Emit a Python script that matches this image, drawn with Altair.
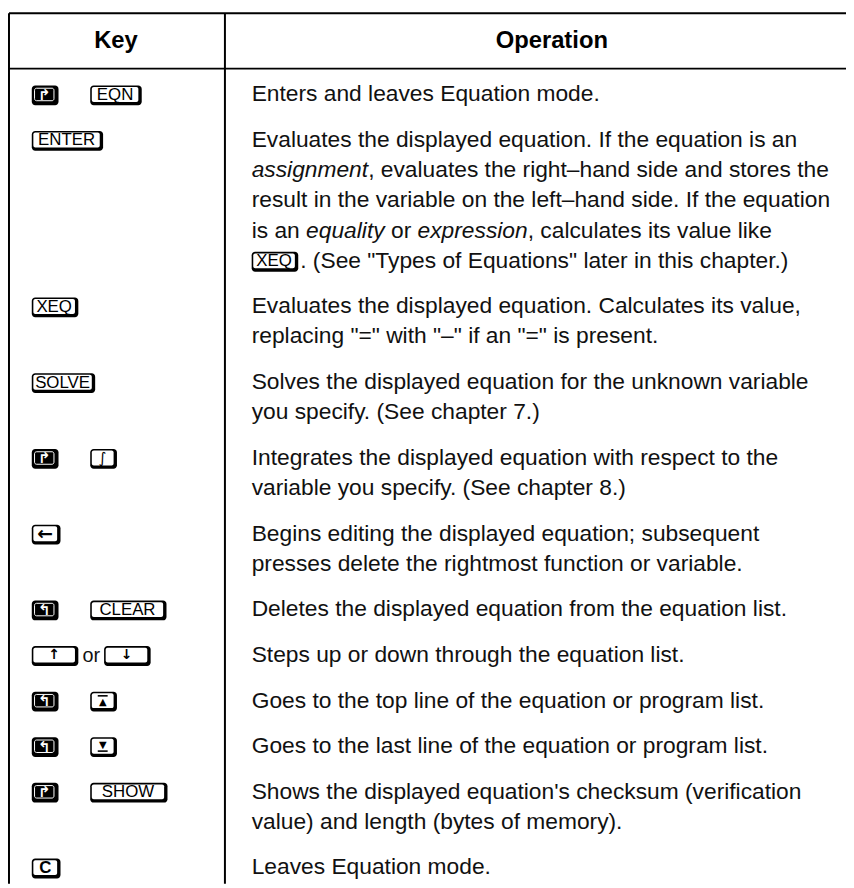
import re
import altair as alt
import pandas as pd

# ---------------- data ----------------
HEADERS = ["Key", "Operation"]

ROW_KEYS = [
    ["RS", "EQN"],
    ["ENTER"],
    ["XEQ"],
    ["SOLVE"],
    ["RS", "∫"],
    ["←"],
    ["LS", "CLEAR"],
    ["↑", "or", "↓"],
    ["LS", "▲"],
    ["LS", "▼"],
    ["RS", "SHOW"],
    ["C"],
]

ROW_TEXT = [
    ["Enters and leaves Equation mode."],
    ["Evaluates the displayed equation. If the equation is an",
     "*assignment*, evaluates the right–hand side and stores the",
     "result in the variable on the left–hand side. If the equation",
     "is an *equality* or *expression*, calculates its value like",
     "[XEQ]. (See \"Types of Equations\" later in this chapter.)"],
    ["Evaluates the displayed equation. Calculates its value,",
     "replacing \"=\" with \"–\" if an \"=\" is present."],
    ["Solves the displayed equation for the unknown variable",
     "you specify. (See chapter 7.)"],
    ["Integrates the displayed equation with respect to the",
     "variable you specify. (See chapter 8.)"],
    ["Begins editing the displayed equation; subsequent",
     "presses delete the rightmost function or variable."],
    ["Deletes the displayed equation from the equation list."],
    ["Steps up or down through the equation list."],
    ["Goes to the top line of the equation or program list."],
    ["Goes to the last line of the equation or program list."],
    ["Shows the displayed equation's checksum (verification",
     "value) and length (bytes of memory)."],
    ["Leaves Equation mode."],
]

# ---------------- layout / style (page pixels) ----------------
OFF = 8
W, H = 846, 880
TABLE_LEFT = 9
COL_DIV = 227
TABLE_TOP = 9
HEADER_BOTTOM = 65
HEADER_Y = 37
KEY_HDR_X = 117
OP_HDR_X = 557
KEY_X0 = 32
TEXT_X0 = 254
FIRST_BASE = 98
LINE_H = 30.5
ROW_GAP = 46
BODY_SIZE = 23
BODY_FONT = "Liberation Sans"
KEY_FONT = "Liberation Sans"
KEY_GAP = 32
OR_W = 26
KEY_TOP, KEY_BOT = 16, 4
EDGE, SHADOW = 1.6, 3.4
KEY_W = {"RS": 27, "LS": 27, "EQN": 52, "ENTER": 72, "XEQ": 47, "SOLVE": 64,
         "∫": 27, "←": 29, "CLEAR": 77, "↑": 47, "↓": 47, "▲": 27, "▼": 27,
         "SHOW": 78, "C": 29}
GLYPH_KEYS = {"←": 19, "↑": 14, "↓": 14}
SHIFT_GLYPH = {"RS": "↱", "LS": "↰"}

HELV = {' ': 278, '!': 278, '"': 355, "'": 191, '(': 333, ')': 333, ',': 278, '-': 333,
        '.': 278, '/': 278, ':': 278, ';': 278, '=': 584, '?': 556, '–': 556,
        'A': 667, 'B': 667, 'C': 722, 'D': 722, 'E': 667, 'F': 611, 'G': 778, 'H': 722,
        'I': 278, 'J': 500, 'K': 667, 'L': 556, 'M': 833, 'N': 722, 'O': 778, 'P': 667,
        'Q': 778, 'R': 722, 'S': 667, 'T': 611, 'U': 722, 'V': 667, 'W': 944, 'X': 667,
        'Y': 667, 'Z': 611, 'a': 556, 'b': 556, 'c': 500, 'd': 556, 'e': 556, 'f': 278,
        'g': 556, 'h': 556, 'i': 222, 'j': 222, 'k': 500, 'l': 222, 'm': 833, 'n': 556,
        'o': 556, 'p': 556, 'q': 556, 'r': 333, 's': 500, 't': 278, 'u': 556, 'v': 500,
        'w': 722, 'x': 500, 'y': 500, 'z': 500}


def tw(s, size):
    return sum(HELV.get(c, 556) for c in s) * size / 1000.0


def cx(v):
    return v - OFF


normal, italic, headers = [], [], []
k_outer, k_inner, k_outline, k_label, k_glyph, k_glyph_i, k_tri, k_bold, s_glyph, k_bar, or_text = (
    [] for _ in range(11))


def add_key(tok, x0, base, w):
    top, bot = base - KEY_TOP, base + KEY_BOT
    x1 = x0 + w
    k_outer.append(dict(x=cx(x0), x2=cx(x1), y=cx(top), y2=cx(bot)))
    ix0, ix1, iy0, iy1 = x0 + EDGE, x1 - SHADOW, top + EDGE, bot - SHADOW
    mx, my = (ix0 + ix1) / 2, (iy0 + iy1) / 2
    if tok in SHIFT_GLYPH:
        k_outline.append(dict(x=cx(ix0 + 1.2), x2=cx(ix1 - 1.2), y=cx(iy0 + 1.2), y2=cx(iy1 - 1.2)))
        s_glyph.append(dict(x=cx(mx), y=cx(my + 0.5), text=SHIFT_GLYPH[tok]))
        return
    k_inner.append(dict(x=cx(ix0), x2=cx(ix1), y=cx(iy0), y2=cx(iy1)))
    if tok in ("▲", "▼"):
        k_tri.append(dict(x=cx(mx), y=cx(my + (1.4 if tok == "▲" else -1.2)), text=tok))
        by = iy0 + 2.6 if tok == "▲" else iy1 - 2.6
        k_bar.append(dict(x=cx(mx - 5), x2=cx(mx + 5), y=cx(by)))
    elif tok == "∫":
        k_glyph_i.append(dict(x=cx(mx), y=cx(my), text=tok))
    elif tok in GLYPH_KEYS:
        k_glyph.append(dict(x=cx(mx), y=cx(my), text=tok, size=GLYPH_KEYS[tok]))
    elif tok == "C":
        k_bold.append(dict(x=cx(mx), y=cx(my + 0.5), text=tok))
    else:
        k_label.append(dict(x=cx(mx), y=cx(my + 0.5), text=tok))


headers.append(dict(x=cx(KEY_HDR_X), y=cx(HEADER_Y), text=HEADERS[0]))
headers.append(dict(x=cx(OP_HDR_X), y=cx(HEADER_Y), text=HEADERS[1]))

base = FIRST_BASE
for r, (keys, lines) in enumerate(zip(ROW_KEYS, ROW_TEXT)):
    if r > 0:
        base += ROW_GAP
    x = KEY_X0
    for i, tok in enumerate(keys):
        if tok == "or":
            or_text.append(dict(x=cx(x + OR_W / 2), y=cx(base), text="or"))
            x += OR_W
            continue
        add_key(tok, x, base, KEY_W[tok])
        x += KEY_W[tok]
        if i + 1 < len(keys) and keys[i + 1] != "or":
            x += KEY_GAP
    for li, line in enumerate(lines):
        if li > 0:
            base += LINE_H
        x = TEXT_X0
        for seg in re.split(r"(\*[^*]+\*|\[[A-Z]+\])", line):
            if not seg:
                continue
            if seg.startswith("["):
                t = seg.strip("[]")
                add_key(t, x, base, KEY_W[t])
                x += KEY_W[t] + 2
                continue
            is_it = seg.startswith("*")
            t = seg.strip("*")
            lead = len(t) - len(t.lstrip(" "))
            x += tw(" " * lead, BODY_SIZE)
            core = t.strip(" ")
            (italic if is_it else normal).append(dict(x=cx(x), y=cx(base), text=core))
            x += tw(t.lstrip(" "), BODY_SIZE)

grid = [
    dict(x=cx(TABLE_LEFT), x2=cx(OFF + W), y=cx(TABLE_TOP), y2=cx(TABLE_TOP)),
    dict(x=cx(TABLE_LEFT), x2=cx(OFF + W), y=cx(HEADER_BOTTOM), y2=cx(HEADER_BOTTOM)),
    dict(x=cx(TABLE_LEFT), x2=cx(TABLE_LEFT), y=cx(TABLE_TOP), y2=cx(OFF + H)),
    dict(x=cx(COL_DIV), x2=cx(COL_DIV), y=cx(TABLE_TOP), y2=cx(OFF + H)),
]

XS = alt.Scale(domain=[0, W], range=[0, W], nice=False, zero=False)
YS = alt.Scale(domain=[0, H], range=[0, H], nice=False, zero=False)


def X(f="x"):
    return alt.X(f"{f}:Q", scale=XS, axis=None)


def Y(f="y"):
    return alt.Y(f"{f}:Q", scale=YS, axis=None)


def df(rows):
    return pd.DataFrame(rows)


def txt(rows, **kw):
    return alt.Chart(df(rows)).mark_text(**kw).encode(x=X(), y=Y(), text="text:N")


layers = [
    alt.Chart(df(grid)).mark_rule(color="#000", strokeWidth=2).encode(
        x=X(), x2="x2:Q", y=Y(), y2="y2:Q"),
    txt(headers, font=BODY_FONT, fontWeight="bold", fontSize=24, align="center",
        baseline="middle", color="#000"),
    txt(normal, font=BODY_FONT, fontSize=BODY_SIZE, align="left", baseline="alphabetic",
        color="#111"),
    txt(italic, font=BODY_FONT, fontSize=BODY_SIZE, fontStyle="italic", align="left",
        baseline="alphabetic", color="#111"),
    txt(or_text, font=BODY_FONT, fontSize=20, align="center", baseline="alphabetic",
        color="#111"),
    alt.Chart(df(k_outer)).mark_rect(color="#000", cornerRadius=3.5).encode(
        x=X(), x2="x2:Q", y=Y(), y2="y2:Q"),
    alt.Chart(df(k_inner)).mark_rect(color="#fff", cornerRadius=2).encode(
        x=X(), x2="x2:Q", y=Y(), y2="y2:Q"),
    alt.Chart(df(k_outline)).mark_rect(
        filled=False, stroke="#fff", strokeWidth=1, cornerRadius=2).encode(
        x=X(), x2="x2:Q", y=Y(), y2="y2:Q"),
    alt.Chart(df(k_bar)).mark_rule(color="#000", strokeWidth=1.6).encode(
        x=X(), x2="x2:Q", y=Y()),
    txt(k_label, font=KEY_FONT, fontSize=17, align="center", baseline="middle", color="#000"),
    txt(k_bold, font=KEY_FONT, fontSize=17, fontWeight="bold", align="center",
        baseline="middle", color="#000"),
    alt.Chart(df(k_glyph)).mark_text(
        font="DejaVu Sans", fontWeight="bold", align="center", baseline="middle",
        color="#000").encode(x=X(), y=Y(), text="text:N",
                             size=alt.Size("size:Q", scale=None, legend=None)),
    txt(k_glyph_i, font="DejaVu Sans", fontSize=15, fontStyle="italic", align="center",
        baseline="middle", color="#000"),
    txt(k_tri, font="DejaVu Sans", fontSize=10, align="center", baseline="middle", color="#000"),
    txt(s_glyph, font="DejaVu Sans", fontSize=15, fontWeight="bold", align="center",
        baseline="middle", color="#fff"),
]

chart = alt.layer(*layers).properties(
    width=W, height=H, padding=0, background="#ffffff",
    autosize=alt.AutoSizeParams(type="none"),
).configure_view(strokeWidth=0)

chart.save("out.html", embed_options={"renderer": "svg", "actions": False})
